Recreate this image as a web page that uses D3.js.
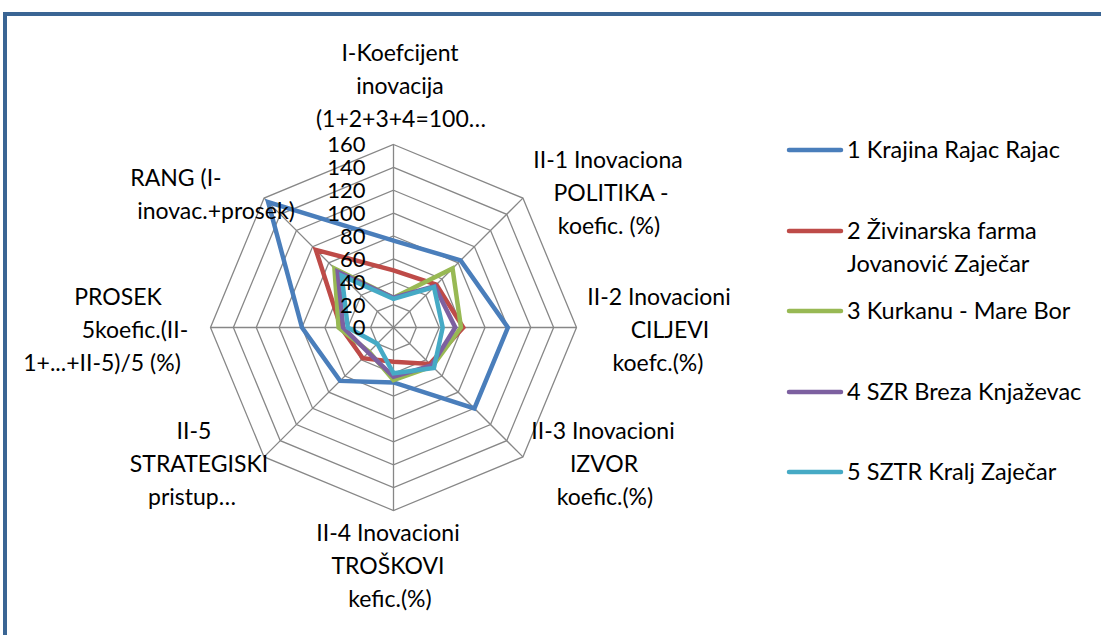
<!DOCTYPE html>
<html>
<head>
<meta charset="utf-8">
<script src="https://cdn.jsdelivr.net/npm/d3@7"></script>
<style>
  body { margin: 0; background: #fff; }
  svg { display: block; font-family: Lato, "Open Sans", sans-serif; }
</style>
</head>
<body>
<div id="chart"></div>
<script>
// axis categories (clockwise from top)
const categories = [
  ["I-Koefcijent", "inovacija", "(1+2+3+4=100…"],
  ["II-1 Inovaciona", "POLITIKA -", "koefic. (%)"],
  ["II-2 Inovacioni", "CILJEVI", "koefc.(%)"],
  ["II-3 Inovacioni", "IZVOR", "koefic.(%)"],
  ["II-4 Inovacioni", "TROŠKOVI", "kefic.(%)"],
  ["II-5", "STRATEGISKI", "pristup…"],
  ["PROSEK", "5koefic.(II-", "1+...+II-5)/5 (%)"],
  ["RANG (I-", "inovac.+prosek)"]
]

const seriesNames = [
  ["1 Krajina Rajac Rajac"],
  ["2 Živinarska farma", "Jovanović Zaječar"],
  ["3 Kurkanu - Mare Bor"],
  ["4 SZR Breza Knjaževac"],
  ["5 SZTR Kralj Zaječar"]
]

const krajina = [76, 83, 100, 100, 48, 66, 80, 155]
const zivinarska = [50, 53, 61, 45, 30, 38, 46, 96]
const kurkanu = [26, 73, 59, 48, 46, 30, 48, 73]
const breza = [26, 51, 54, 47, 43, 31, 44, 69]
const kralj = [25, 50, 43, 50, 40, 20, 40, 64]

const tickValues = [0, 20, 40, 60, 80, 100, 120, 140, 160]

const seriesValues = [krajina, zivinarska, kurkanu, breza, kralj]
const colors = ["#4a7ebb", "#be4b48", "#98b954", "#7d60a0", "#46aac5"]

// label layout: centre x per line, y of first line
const labelLayout = [
  { x: [400, 400, 401], y: 53 },
  { x: [608, 611, 609], y: 160 },
  { x: [659, 670, 658], y: 297 },
  { x: [603, 604, 605], y: 431 },
  { x: [388, 388, 390], y: 533 },
  { x: [194, 199, 192], y: 431 },
  { x: [118, 135, 102], y: 297 },
  { x: [176, 216], y: 178 }
]

const width = 1101
const height = 635
const cx = 393.5
const cy = 327.5
const radius = 183
const lineGap = 33

const svg = d3.select("#chart")
  .append("svg")
  .attr("width", width)
  .attr("height", height)

// frame
svg.append("rect")
  .attr("x", 5)
  .attr("y", 14)
  .attr("width", 1200)
  .attr("height", 800)
  .attr("fill", "none")
  .attr("stroke", "#3a6594")
  .attr("stroke-width", 4)

const r = d3.scaleLinear().domain([0, 160]).range([0, radius])
const angle = i => i * 2 * Math.PI / categories.length

const g = svg.append("g").attr("transform", `translate(${cx},${cy})`)

const pt = (v, i) => [r(v) * Math.sin(angle(i)), -r(v) * Math.cos(angle(i))]

// rings
tickValues.slice(1).forEach(t => {
  g.append("path")
    .attr("d", d3.line()(categories.map((_, i) => pt(t, i))) + "Z")
    .attr("fill", "none")
    .attr("stroke", "#878787")
    .attr("stroke-width", 1.3)
})

// spokes
g.selectAll("line.spoke")
  .data(categories)
  .enter()
    .append("line")
    .attr("class", "spoke")
    .attr("x1", 0).attr("y1", 0)
    .attr("x2", (d, i) => pt(160, i)[0])
    .attr("y2", (d, i) => pt(160, i)[1])
    .attr("stroke", "#878787")
    .attr("stroke-width", 1.3)

// series
const lineGen = d3.line()
seriesValues.forEach((vals, s) => {
  g.append("path")
    .attr("d", lineGen(vals.map((v, i) => pt(v, i))) + "Z")
    .attr("fill", "none")
    .attr("stroke", colors[s])
    .attr("stroke-width", 4.5)
    .attr("stroke-linejoin", "miter")
})

// tick labels (they sit tight on the top spoke, as in the original)
g.selectAll("text.tick")
  .data(tickValues)
  .enter()
    .append("text")
    .attr("class", "tick")
    .attr("x", -28)
    .attr("y", d => -r(d))
    .attr("dy", "0.36em")
    .attr("text-anchor", "end")
    .attr("font-size", 22)
    .attr("fill", "#000")
    .text(d => d)

// category labels
categories.forEach((lines, i) => {
  const lay = labelLayout[i]
  lines.forEach((t, j) => {
    svg.append("text")
      .attr("x", lay.x[j])
      .attr("y", lay.y + j * lineGap)
      .attr("dy", "0.36em")
      .attr("text-anchor", "middle")
      .attr("font-size", 23)
      .attr("fill", "#000")
      .text(t)
  })
})

// legend
const legendY = [150, 231, 311, 392, 472]
seriesNames.forEach((lines, s) => {
  svg.append("line")
    .attr("x1", 789).attr("x2", 841)
    .attr("y1", legendY[s]).attr("y2", legendY[s])
    .attr("stroke", colors[s])
    .attr("stroke-width", 4.5)
    .attr("stroke-linecap", "round")
  lines.forEach((t, j) => {
    svg.append("text")
      .attr("x", 847)
      .attr("y", legendY[s] + j * lineGap)
      .attr("dy", "0.36em")
      .attr("font-size", 23.5)
      .attr("fill", "#000")
      .text(t)
  })
})
</script>
</body>
</html>
